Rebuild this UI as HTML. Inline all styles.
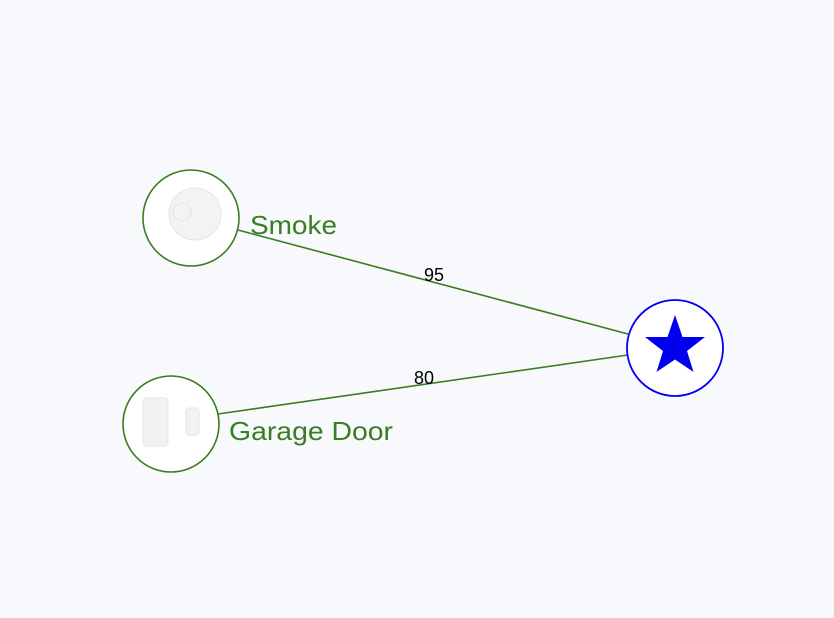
<!DOCTYPE html>
<html><head><style>body{margin:0;background:#f7f9fc;}svg{display:block}</style></head><body>
<svg width="834" height="618" xmlns="http://www.w3.org/2000/svg">
<rect width="834" height="618" fill="#f7f9fc"/>
<line x1="238" y1="230" x2="628" y2="334" stroke="#3a7d22" stroke-width="1.6"/>
<line x1="218" y1="414" x2="628" y2="355" stroke="#3a7d22" stroke-width="1.6"/>
<text x="434" y="281" font-family="Liberation Sans, sans-serif" font-size="18" text-anchor="middle" fill="#000">95</text>
<text x="424" y="384" font-family="Liberation Sans, sans-serif" font-size="18" text-anchor="middle" fill="#000">80</text>
<circle cx="191" cy="218" r="48" fill="#fff" stroke="#3a7d22" stroke-width="1.6"/>
<circle cx="195" cy="214" r="26" fill="#f3f3f3" stroke="#e6e6e6"/>
<circle cx="182" cy="212" r="9" fill="none" stroke="#ccc" stroke-dasharray="1 1.5"/>
<circle cx="171" cy="424" r="48" fill="#fff" stroke="#3a7d22" stroke-width="1.6"/>
<rect x="143" y="398" width="25" height="48" rx="4" fill="#f2f2f2" stroke="#e4e4e4"/>
<rect x="186" y="408" width="13" height="27" rx="3" fill="#f2f2f2" stroke="#e4e4e4"/>
<circle cx="675" cy="348" r="48" fill="#fff" stroke="#0000ee" stroke-width="1.8"/>
<polygon points="675,315 682.5,337 705,337 687,351 693.5,372 675,359.5 656.5,372 663,351 645,337 667.5,337" fill="#0000ee"/>
<text x="250" y="234" font-family="Liberation Sans, sans-serif" font-size="26" fill="#3a7d22" textLength="87" lengthAdjust="spacingAndGlyphs">Smoke</text>
<text x="229" y="440" font-family="Liberation Sans, sans-serif" font-size="26" fill="#3a7d22" textLength="164" lengthAdjust="spacingAndGlyphs">Garage Door</text>
</svg>
</body></html>
